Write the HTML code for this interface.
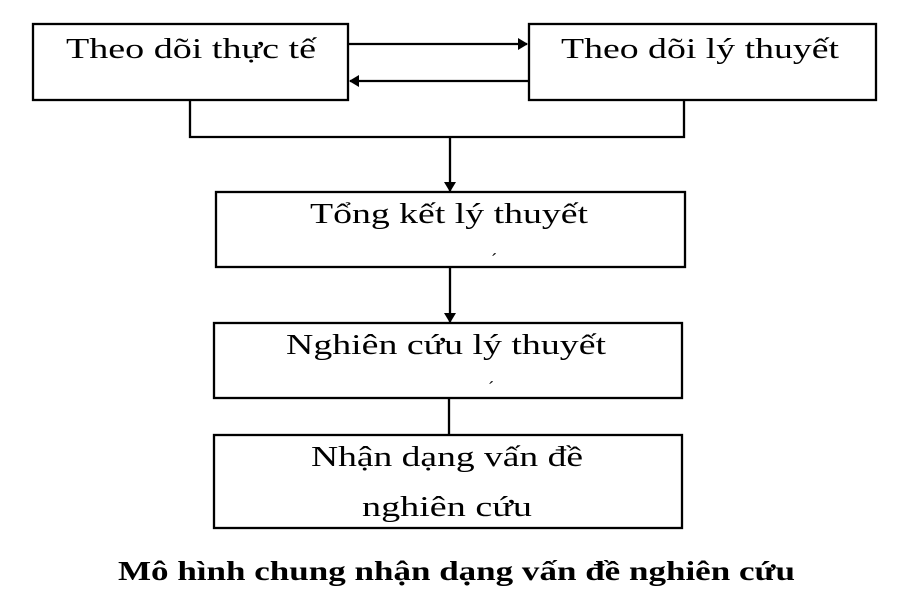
<!DOCTYPE html>
<html><head><meta charset="utf-8"><style>html,body{margin:0;padding:0;background:#fff}svg{display:block}</style></head>
<body>
<svg width="912" height="598" viewBox="0 0 912 598" xmlns="http://www.w3.org/2000/svg">
<defs><marker id="a" markerWidth="10" markerHeight="12" refX="9" refY="6" orient="auto" markerUnits="userSpaceOnUse"><path d="M0,0 L10,6 L0,12 z" fill="#000"/></marker></defs>
<g fill="none" stroke="#000" stroke-width="2.3">
<rect x="33" y="24" width="315" height="76"/>
<rect x="529" y="24" width="347" height="76"/>
<line x1="348" y1="44" x2="527" y2="44" marker-end="url(#a)"/>
<line x1="529" y1="81" x2="350" y2="81" marker-end="url(#a)"/>
<polyline points="190,100 190,137 684,137 684,100"/>
<line x1="450" y1="137" x2="450" y2="191" marker-end="url(#a)"/>
<rect x="216" y="192" width="469" height="75"/>
<line x1="450" y1="267" x2="450" y2="322" marker-end="url(#a)"/>
<rect x="214" y="323" width="468" height="75"/>
<line x1="449" y1="398" x2="449" y2="435"/>
<rect x="214" y="435" width="468" height="93"/>
</g>
<g font-family="Liberation Serif, serif" font-size="28" fill="#000">
<text x="66" y="58" textLength="250" lengthAdjust="spacingAndGlyphs">Theo dõi thực tế</text>
<text x="561" y="58" textLength="278" lengthAdjust="spacingAndGlyphs">Theo dõi lý thuyết</text>
<text x="310" y="223" textLength="278" lengthAdjust="spacingAndGlyphs">Tổng kết lý thuyết</text>
<text x="491" y="266" font-size="18">ˊ</text>
<text x="286" y="354" textLength="320" lengthAdjust="spacingAndGlyphs">Nghiên cứu lý thuyết</text>
<text x="488" y="394" font-size="18">ˊ</text>
<text x="311" y="466" textLength="272" lengthAdjust="spacingAndGlyphs">Nhận dạng vấn đề</text>
<text x="362" y="516" textLength="170" lengthAdjust="spacingAndGlyphs">nghiên cứu</text>
<text x="118" y="580" font-weight="bold" font-size="27" textLength="677" lengthAdjust="spacingAndGlyphs">Mô hình chung nhận dạng vấn đề nghiên cứu</text>
</g>
</svg>
</body></html>
